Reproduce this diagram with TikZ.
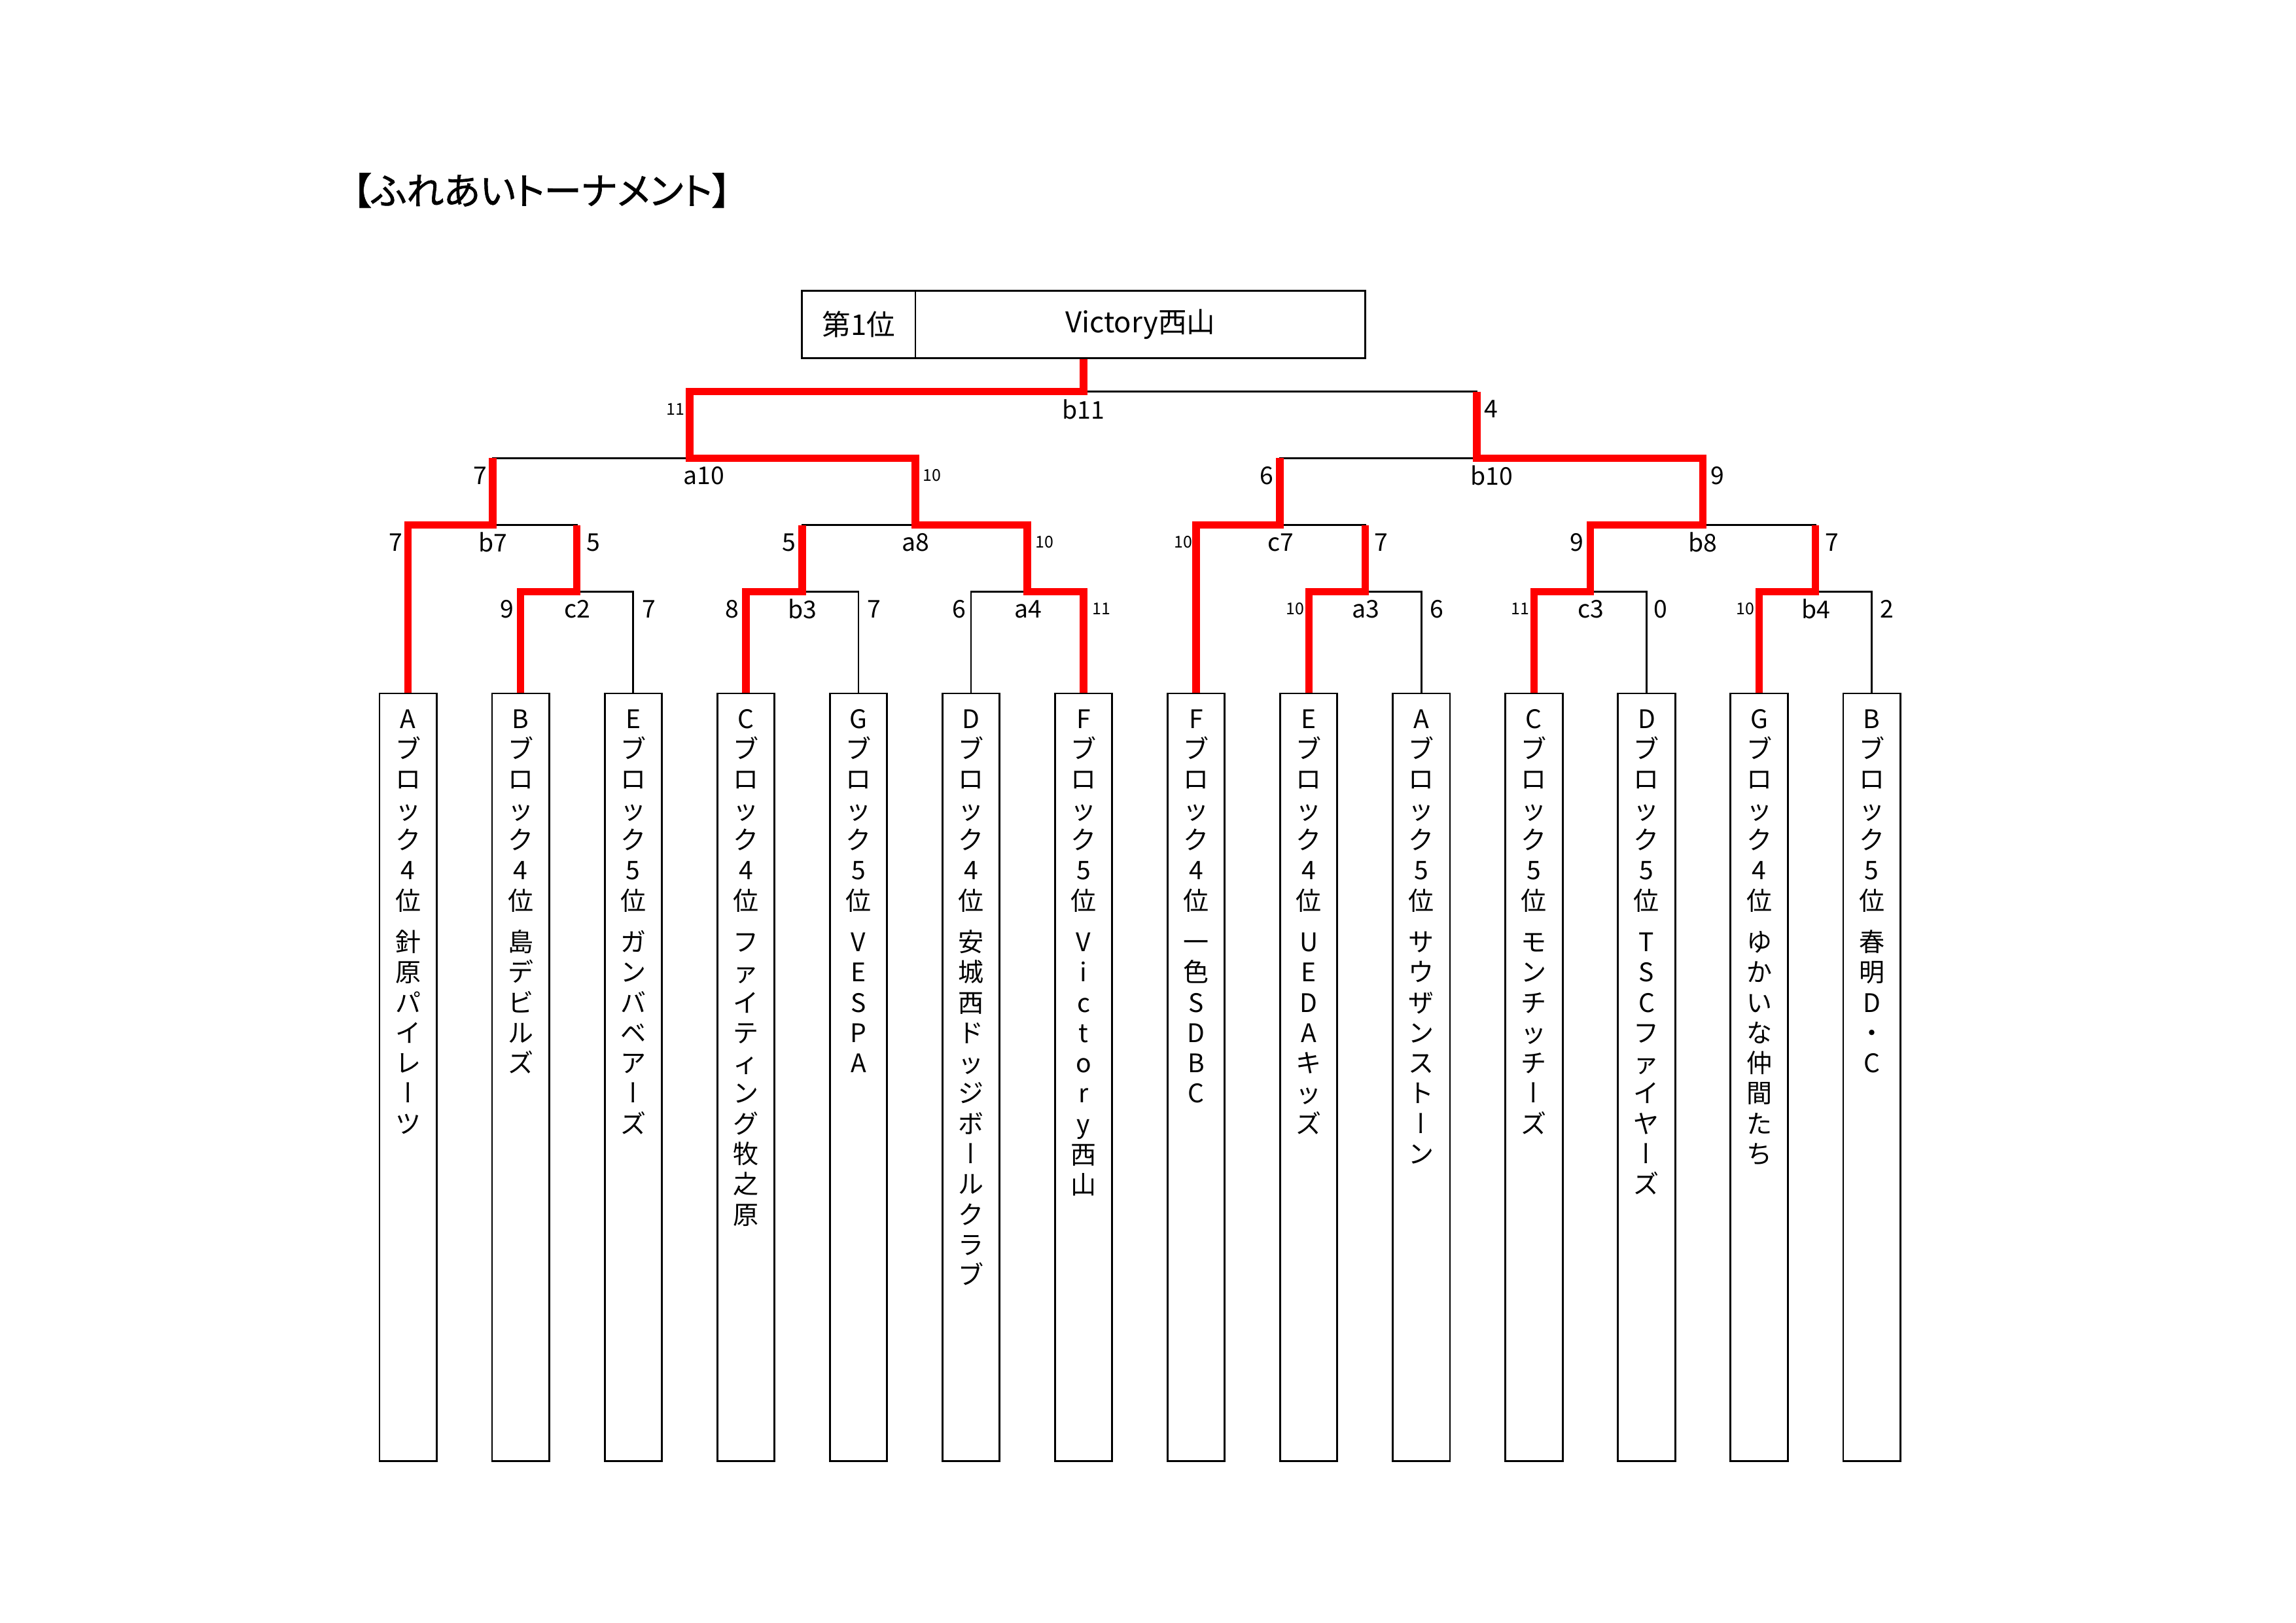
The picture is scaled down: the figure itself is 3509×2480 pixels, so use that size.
\documentclass[tikz,border=0pt]{standalone}
\usepackage{fontspec}
\setmainfont{Noto Sans CJK JP}
\newfontfamily\jpv[RawFeature=+vert]{Noto Sans CJK JP}
\newfontfamily\jpt[RawFeature=+palt, FakeBold=1]{Noto Sans CJK JP}
\pgfdeclarelayer{back}
\pgfdeclarelayer{bg}
\pgfsetlayers{back,bg,main}
\newlength\vtpitch \setlength\vtpitch{11.15pt}
\newlength\vtgap \setlength\vtgap{4.09pt}
\ExplSyntaxOn
\NewDocumentCommand\vtext{m}
 {
  \vbox
   {
    \offinterlineskip
    \tl_map_inline:nn {#1}
     {
      \str_if_eq:nnTF {##1} {　}
       { \kern\vtgap }
       {
        \hbox to 2em
         {
          \hss
          \vrule width 0pt height \dim_eval:n {0.5\vtpitch + 0.38em} depth \dim_eval:n {0.5\vtpitch - 0.38em}
          \str_if_eq:nnTF {##1} {ー} { {\jpv ー} } { ##1 }
          \hss
         }
       }
     }
   }
 }
\ExplSyntaxOff
\tikzset{
  blk/.style={line width=0.65pt, draw=black},
  win/.style={line width=2.76pt, draw=red},
  teambox/.style={draw, line width=0.7pt, inner sep=0pt, minimum width=7.389mm, minimum height=99.33mm},
  teamtext/.style={anchor=north, inner sep=0pt, font=\fontsize{9.4}{11}\selectfont},
  wbox/.style={draw, line width=0.7pt, inner sep=0pt, minimum height=8.692mm, font=\fontsize{10.5}{12}\selectfont},
  sc/.style={inner sep=0pt, font=\fontsize{9}{10}\selectfont},
  scs/.style={inner sep=0pt, font=\fontsize{6}{7}\selectfont},
}
\begin{document}
\begin{tikzpicture}[x=0.084639mm, y=-0.084639mm]
\useasboundingbox (0,0) rectangle (3509,2480);
\begin{pgfonlayer}{back}
\fill[white] (0,0) rectangle (3509,2480);
\end{pgfonlayer}

% title
\node[anchor=west, inner sep=0pt, font=\jpt\fontsize{13.8}{16}\selectfont] (title) at (538,291) {【ふれあいトーナメント】};

% winner box
\node[wbox, minimum width=14.685mm] (w1) at (1312.25,496) {第1位};
\node[wbox, minimum width=58.189mm] (w2) at (1742.75,496) {Victory西山};

% team boxes
\foreach \i in {1,...,14}
  \node[teambox] (t\i) at ({623.6+172.08*(\i-1)},1646.8) {};

\node[teamtext] (n1) at ([yshift=-1.354mm]t1.north) {\vtext{Aブロック4位　針原パイレーツ}};
\node[teamtext] (n2) at ([yshift=-1.354mm]t2.north) {\vtext{Bブロック4位　島デビルズ}};
\node[teamtext] (n3) at ([yshift=-1.354mm]t3.north) {\vtext{Eブロック5位　ガンバベアーズ}};
\node[teamtext] (n4) at ([yshift=-1.354mm]t4.north) {\vtext{Cブロック4位　ファイティング牧之原}};
\node[teamtext] (n5) at ([yshift=-1.354mm]t5.north) {\vtext{Gブロック5位　VESPA}};
\node[teamtext] (n6) at ([yshift=-1.354mm]t6.north) {\vtext{Dブロック4位　安城西ドッジボールクラブ}};
\node[teamtext] (n7) at ([yshift=-1.354mm]t7.north) {\vtext{Fブロック5位　Victory西山}};
\node[teamtext] (n8) at ([yshift=-1.354mm]t8.north) {\vtext{Fブロック4位　一色SDBC}};
\node[teamtext] (n9) at ([yshift=-1.354mm]t9.north) {\vtext{Eブロック4位　UEDAキッズ}};
\node[teamtext] (n10) at ([yshift=-1.354mm]t10.north) {\vtext{Aブロック5位　サウザンストーン}};
\node[teamtext] (n11) at ([yshift=-1.354mm]t11.north) {\vtext{Cブロック5位　モンチッチーズ}};
\node[teamtext] (n12) at ([yshift=-1.354mm]t12.north) {\vtext{Dブロック5位　TSCファイヤーズ}};
\node[teamtext] (n13) at ([yshift=-1.354mm]t13.north) {\vtext{Gブロック4位　ゆかいな仲間たち}};
\node[teamtext] (n14) at ([yshift=-1.354mm]t14.north) {\vtext{Bブロック5位　春明D・C}};

% match junctions
\coordinate (c2) at (881.75,904.5);
\coordinate (b3) at (1225.85,904.5);
\coordinate (a4) at (1570.05,904.5);
\coordinate (a3) at (2086.3,904.5);
\coordinate (c3) at (2430.45,904.5);
\coordinate (b4) at (2774.6,904.5);
\coordinate (b7) at (753,802.5);
\coordinate (a8) at (1399,802.5);
\coordinate (c7) at (1956,802.5);
\coordinate (b8) at (2602.5,802.5);
\coordinate (a10) at (1054,700.4);
\coordinate (b10) at (2257,700.4);
\coordinate (fin) at (1656.1,598.7);

\begin{pgfonlayer}{bg}
% black brackets
\draw[blk] (t2.north) |- (c2) -| (t3.north);
\draw[blk] (t4.north) |- (b3) -| (t5.north);
\draw[blk] (t6.north) |- (a4) -| (t7.north);
\draw[blk] (t9.north) |- (a3) -| (t10.north);
\draw[blk] (t11.north) |- (c3) -| (t12.north);
\draw[blk] (t13.north) |- (b4) -| (t14.north);
\draw[blk] (t1.north) |- (b7) -| (c2);
\draw[blk] (b3) |- (a8) -| (a4);
\draw[blk] (t8.north) |- (c7) -| (a3);
\draw[blk] (c3) |- (b8) -| (b4);
\draw[blk] (b7) |- (a10) -| (a8);
\draw[blk] (c7) |- (b10) -| (b8);
\draw[blk] (a10) |- (fin) -| (b10);
% winners' paths
\draw[win] (t1.north) |- (b7) -- (b7 |- a10);
\draw[win] (t2.north) |- (c2) -- (c2 |- b7);
\draw[win] (t4.north) |- (b3) -- (b3 |- a8);
\draw[win] (t7.north) |- (a4) |- (a8) |- (a10) |- (fin) -- (fin |- w2.south);
\draw[win] (t9.north) |- (a3) -- (a3 |- c7);
\draw[win] (t8.north) |- (c7) -- (c7 |- b10);
\draw[win] (t11.north) |- (c3) |- (b8) |- (b10) -- (b10 |- fin);
\draw[win] (t13.north) |- (b4) -- (b4 |- b8);
\end{pgfonlayer}

% scores and match names
\node[scs, anchor=east] (s1) at (1047,625.5) {11};
\node[sc] (m1) at (1656,625.5) {b11};
\node[sc, anchor=west] (s2) at (2268,625.5) {4};

\node[sc, anchor=east] (s3) at (745,727) {7};
\node[sc] (m2) at (1076,727) {a10};
\node[scs, anchor=west] (s4) at (1410,727) {10};
\node[sc, anchor=east] (s5) at (1947,727) {6};
\node[sc] (m3) at (2280,727) {b10};
\node[sc, anchor=west] (s6) at (2614,727) {9};

\node[sc, anchor=east] (s7) at (616,829) {7};
\node[sc] (m4) at (753,829) {b7};
\node[sc, anchor=west] (s8) at (896,829) {5};
\node[sc, anchor=east] (s9) at (1217,829) {5};
\node[sc] (m5) at (1399,829) {a8};
\node[scs, anchor=west] (s10) at (1582,829) {10};
\node[scs, anchor=east] (s11) at (1823,829) {10};
\node[sc] (m6) at (1957,829) {c7};
\node[sc, anchor=west] (s12) at (2100,829) {7};
\node[sc, anchor=east] (s13) at (2421,829) {9};
\node[sc] (m7) at (2602,829) {b8};
\node[sc, anchor=west] (s14) at (2789,829) {7};

\node[sc, anchor=east] (s15) at (786,931) {9};
\node[sc] (m8) at (882,931) {c2};
\node[sc, anchor=west] (s16) at (981,931) {7};
\node[sc, anchor=east] (s17) at (1130,931) {8};
\node[sc] (m9) at (1226,931) {b3};
\node[sc, anchor=west] (s18) at (1325,931) {7};
\node[sc, anchor=east] (s19) at (1477,931) {6};
\node[sc] (m10) at (1571,931) {a4};
\node[scs, anchor=west] (s20) at (1669,931) {11};
\node[scs, anchor=east] (s21) at (1994,931) {10};
\node[sc] (m11) at (2087,931) {a3};
\node[sc, anchor=west] (s22) at (2185,931) {6};
\node[scs, anchor=east] (s23) at (2338,931) {11};
\node[sc] (m12) at (2431,931) {c3};
\node[sc, anchor=west] (s24) at (2527,931) {0};
\node[scs, anchor=east] (s25) at (2682,931) {10};
\node[sc] (m13) at (2775,931) {b4};
\node[sc, anchor=west] (s26) at (2873,931) {2};
\end{tikzpicture}
\end{document}
